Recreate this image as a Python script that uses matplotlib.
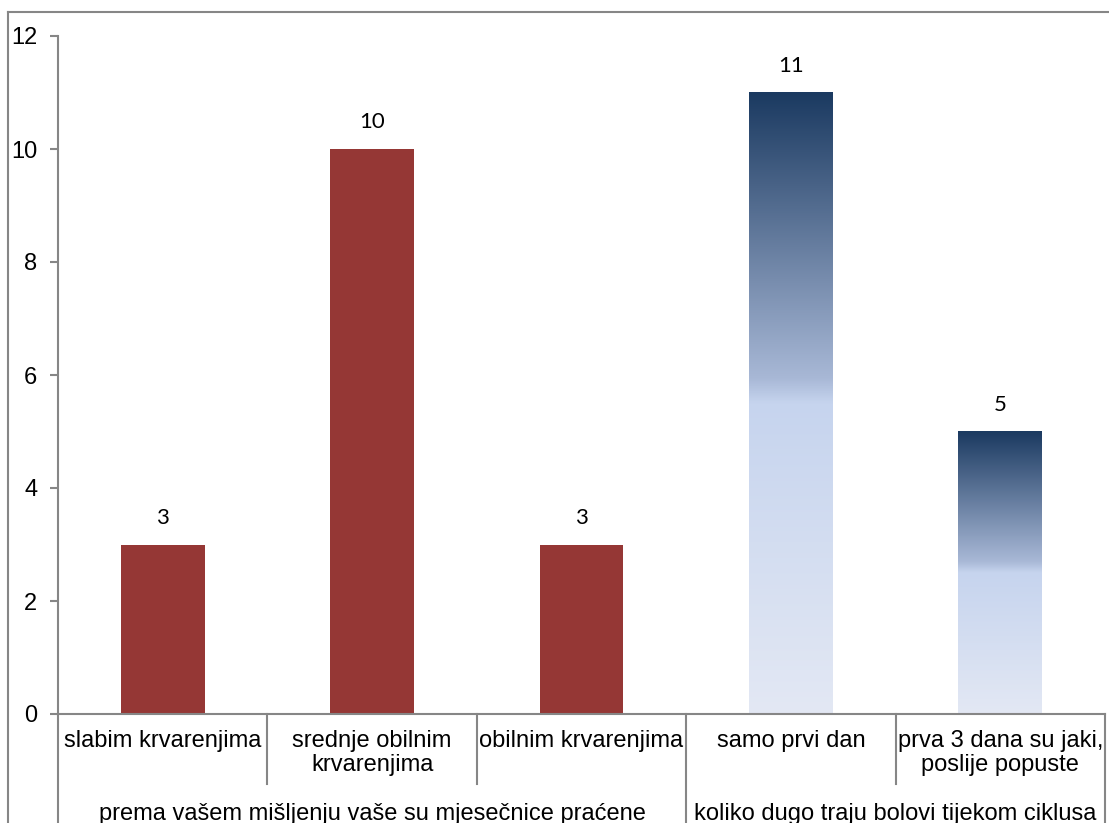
import numpy as np
import matplotlib.pyplot as plt
from matplotlib.colors import LinearSegmentedColormap
from matplotlib.lines import Line2D

plt.rcParams['font.family'] = ['Liberation Sans', 'DejaVu Sans']

# data
categories = ['slabim krvarenjima', 'srednje obilnim\nkrvarenjima', 'obilnim krvarenjima',
              'samo prvi dan', 'prva 3 dana su jaki,\nposlije popuste']
values = [3, 10, 3, 11, 5]
groups = ['prema vašem mišljenju vaše su mjesečnice praćene',
          'koliko dugo traju bolovi tijekom ciklusa']
group_sizes = [3, 2]

red = '#953735'
grey = '#868686'
blue_grad = LinearSegmentedColormap.from_list(
    'bluegrad', [(0.0, '#E3E8F4'), (0.5, '#C6D4EE'), (0.54, '#A8B8D6'), (1.0, '#1B3A61')])

W, H = 1109, 823
fig = plt.figure(figsize=(W / 100, H / 100), dpi=100)
ax_l, ax_r, ax_t, ax_b = 58, 1105, 36, 714
ax = fig.add_axes([ax_l / W, 1 - ax_b / H, (ax_r - ax_l) / W, (ax_b - ax_t) / H])

x = np.arange(len(values))
bw = 0.40
n_red = group_sizes[0]
for i, v in enumerate(values):
    if i < n_red:
        ax.bar(x[i], v, width=bw, color=red, zorder=2)
    else:
        grad = np.linspace(0, 1, 256).reshape(-1, 1)
        ax.imshow(grad, extent=[x[i] - bw / 2, x[i] + bw / 2, 0, v], origin='lower',
                  aspect='auto', cmap=blue_grad, zorder=2)
    ax.annotate(str(v), (x[i], v), xytext=(0, 12), textcoords='offset points',
                ha='center', va='bottom', fontsize=16, family=['Lato', 'DejaVu Sans'])

ax.set_xlim(-0.5, len(values) - 0.5)
ax.set_ylim(0, 12)
ax.set_yticks(range(0, 13, 2))
ax.set_xticks([])
ax.tick_params(axis='y', length=6, color=grey, width=1.5, labelsize=17, pad=9)
for s in ['top', 'right']:
    ax.spines[s].set_visible(False)
for s in ['left', 'bottom']:
    ax.spines[s].set_color(grey)
    ax.spines[s].set_linewidth(1.5)

# multi-level category axis, positions in pixels below the axis
ah = ax_b - ax_t
def yf(px):
    return -(px - ax_b) / ah

trans = ax.get_xaxis_transform()
for i, lab in enumerate(categories):
    ax.text(x[i], yf(730), lab, transform=trans, ha='center', va='top',
            fontsize=17, linespacing=1.1)

bounds = np.arange(len(values) + 1) - 0.5
group_edges = np.concatenate([[0], np.cumsum(group_sizes)]) - 0.5
for b in bounds:
    bottom = 823 if b in group_edges else 784
    ax.add_line(Line2D([b, b], [yf(714), yf(bottom)], transform=trans,
                       color=grey, lw=1.5, clip_on=False))

start = 0
for g, n in zip(groups, group_sizes):
    mid = start + (n - 1) / 2
    ax.text(mid, yf(820), g, transform=trans, ha='center', va='baseline', fontsize=17)
    start += n

# chart frame
fig.add_artist(Line2D([8 / W, 1], [1 - 12 / H] * 2, color=grey, lw=1.5))
fig.add_artist(Line2D([8 / W] * 2, [0, 1 - 12 / H], color=grey, lw=1.5))

fig.savefig('out.png', dpi=100)
